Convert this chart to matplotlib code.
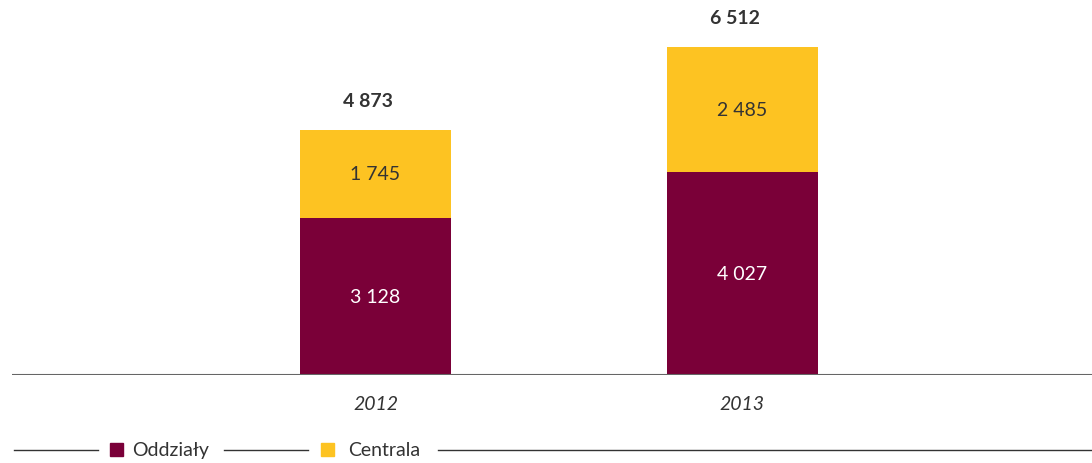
import matplotlib.pyplot as plt
from matplotlib.lines import Line2D
from matplotlib.patches import Rectangle

plt.rcParams['font.family'] = ['Lato', 'DejaVu Sans']

years = ['2012', '2013']
oddzialy = [3128, 4027]
centrala = [1745, 2485]
totals = [o + c for o, c in zip(oddzialy, centrala)]

def fmt(v):
    return f'{v:,}'.replace(',', ' ')

c_odd = '#7a0038'
c_cen = '#fdc322'
txt = '#333333'

fig = plt.figure(figsize=(10.92, 4.64), dpi=100)
ax = fig.add_axes([12/1092, 88/464, 1080/1092, 376/464])

x = [0, 1]
w = 0.412
ax.bar(x, oddzialy, width=w, color=c_odd)
ax.bar(x, centrala, width=w, bottom=oddzialy, color=c_cen)

for i in x:
    ax.text(i, oddzialy[i] / 2, fmt(oddzialy[i]), ha='center', va='center',
            color='white', fontsize=14)
    ax.text(i, oddzialy[i] + centrala[i] / 2, fmt(centrala[i]), ha='center',
            va='center', color=txt, fontsize=14)
    ax.text(i - 0.02, totals[i] + 590, fmt(totals[i]), ha='center', va='center',
            color=txt, fontsize=14, fontweight='bold')
    ax.text(i, -560, years[i], ha='center', va='center', color=txt,
            fontsize=14, style='italic')

ax.set_xlim(-0.992, 1.955)
ax.set_ylim(0, 7475)
ax.axhline(0, color='#666666', lw=1.5)
ax.axis('off')

# legend drawn by hand
ly = 13/464
for x0, x1 in [(14, 98), (224, 308), (438, 1092)]:
    fig.add_artist(Line2D([x0/1092, x1/1092], [ly, ly], color='#333333', lw=1))
for xs, col, lab, xt in [(110, c_odd, 'Oddziały', 132), (321, c_cen, 'Centrala', 348)]:
    fig.add_artist(Rectangle((xs/1092, 7/464), 13/1092, 13/464,
                             color=col, transform=fig.transFigure))
    fig.text(xt/1092, ly, lab, ha='left', va='center', color=txt, fontsize=14)

fig.savefig('out.png', dpi=100)
